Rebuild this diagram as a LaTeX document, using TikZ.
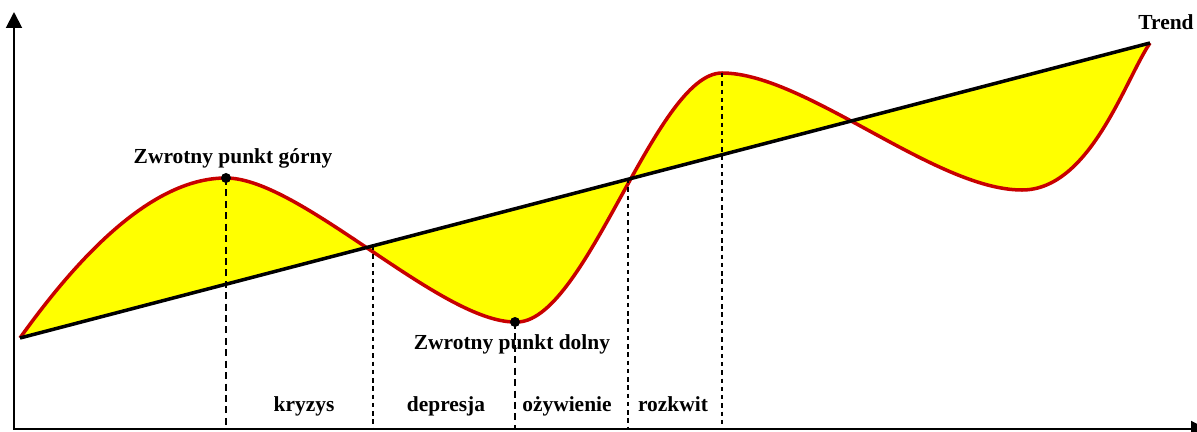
\documentclass[tikz,border=0pt]{standalone}
\usepackage{fontspec}
\setmainfont{Liberation Serif}
\usetikzlibrary{arrows.meta}
\definecolor{wavered}{RGB}{200,0,0}
\definecolor{wavefill}{RGB}{255,255,0}
\tikzset{
  lbl/.style={font=\fontsize{12.2}{14}\selectfont\bfseries, inner sep=1pt, anchor=base},
  thickdash/.style={line width=1.2pt, dash pattern=on 4pt off 2.5pt},
  thindash/.style={line width=0.7pt, dash pattern=on 2.5pt off 2.2pt}
}
\begin{document}
\begin{tikzpicture}[x=0.02cm, y=-0.02cm]
\useasboundingbox (0,0) rectangle (1197,432);
% wave points
\coordinate (start) at (20,338);
\coordinate (top) at (226,178);
\coordinate (cross1) at (373,246);
\coordinate (bottom) at (515,322);
\coordinate (cross2) at (628,179);
\coordinate (top2) at (722,73);
\coordinate (low2) at (1022,190);
\coordinate (end) at (1150,43);
% fill and curve
\fill[wavefill] (start) .. controls (90,240) and (160,178) .. (top)
  .. controls (300,178) and (440,322) .. (bottom)
  .. controls (585,326) and (655,73) .. (top2)
  .. controls (805,73) and (935,190) .. (low2)
  .. controls (1090,190) and (1125,80) .. (end) -- cycle;
\draw[wavered, line width=2pt] (start) .. controls (90,240) and (160,178) .. (top)
  .. controls (300,178) and (440,322) .. (bottom)
  .. controls (585,326) and (655,73) .. (top2)
  .. controls (805,73) and (935,190) .. (low2)
  .. controls (1090,190) and (1125,80) .. (end);
\draw[line width=2pt] (start) -- (end);
% axes
\draw[line width=1.1pt, -{Triangle[width=9pt,length=9pt]}] (14,429) -- (14,12);
\draw[line width=1.1pt, -{Triangle[width=9pt,length=9pt]}] (13,429) -- (1207,429);
% dashed lines
\draw[thickdash] (top) -- (226,429);
\draw[thickdash] (bottom) -- (515,429);
\draw[thindash] (cross1) -- (373,429);
\draw[thindash] (cross2) -- (628,429);
\draw[thindash] (top2) -- (722,429);
\fill (top) circle (5);
\fill (bottom) circle (5);
% labels
\node[lbl] (gorny) at (233,164) {Zwrotny punkt górny};
\node[lbl] (dolny) at (512,349) {Zwrotny punkt dolny};
\node[lbl] (trend) at (1166,30) {Trend};
\node[lbl] (kryzys) at (304,411) {kryzys};
\node[lbl] (depresja) at (446,411) {depresja};
\node[lbl] (ozyw) at (567,411) {ożywienie};
\node[lbl] (rozkwit) at (673,411) {rozkwit};
\end{tikzpicture}
\end{document}
